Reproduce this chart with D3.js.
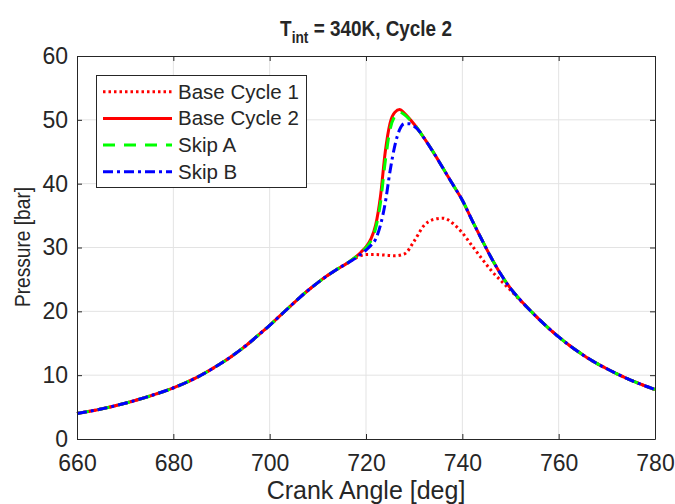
<!DOCTYPE html>
<html>
<head>
<meta charset="utf-8">
<script src="https://cdn.jsdelivr.net/npm/d3@7"></script>
<style>
  body { margin: 0; background: #fff; }
  svg text { font-family: "Liberation Sans", Arial, sans-serif; fill: #262626; }
</style>
</head>
<body>
<div id="chart"></div>
<script>
// 数据
const xTicks = [660, 680, 700, 720, 740, 760, 780];
const yTicks = [0, 10, 20, 30, 40, 50, 60];

// 共同压缩段
const commonAngle = [660, 665, 670, 675, 680, 685, 690, 692, 694, 696, 698, 700, 702, 704, 706, 708, 710, 712, 714, 716];
const commonP = [4.0, 4.7, 5.6, 6.7, 8.0, 9.7, 11.9, 12.9, 14.0, 15.2, 16.5, 17.8, 19.2, 20.6, 22.0, 23.3, 24.5, 25.6, 26.6, 27.5];

// 共同膨胀段
const tailAngle = [756, 758, 760, 762, 764, 766, 768, 770, 772, 774, 776, 778, 780];
const tailP = [18.7, 17.3, 16.0, 14.8, 13.7, 12.7, 11.8, 11.0, 10.25, 9.55, 8.9, 8.3, 7.75];

const base1Angle = [718, 720, 722, 724, 726, 728, 730, 732, 734, 736, 738, 740, 742, 744, 746, 748, 750, 752, 754];
const base1P = [28.4, 28.9, 28.9, 28.8, 28.7, 29.0, 31.0, 33.4, 34.4, 34.6, 33.8, 32.3, 30.3, 28.3, 26.4, 24.8, 23.3, 21.7, 20.2];

const base2Angle = [718, 719, 720, 721, 722, 723, 724, 725, 726, 727, 728, 729, 730, 732, 734, 736, 738, 740, 742, 744, 746, 748, 750, 752, 754];
const base2P = [28.6, 29.3, 30.1, 31.3, 33.5, 38.0, 45.0, 49.5, 51.2, 51.6, 51.0, 50.2, 49.3, 47.2, 44.9, 42.4, 39.9, 37.4, 34.3, 31.3, 28.4, 25.8, 23.6, 21.8, 20.2];

const skipAAngle = [718, 719, 720, 721, 722, 723, 724, 725, 726, 727, 728, 729, 730, 732, 734, 736, 738, 740, 742, 744, 746, 748, 750, 752, 754];
const skipAP = [28.6, 29.2, 30.0, 31.0, 33.0, 37.0, 43.5, 48.5, 50.6, 51.2, 50.8, 50.1, 49.3, 47.2, 44.9, 42.4, 39.9, 37.4, 34.3, 31.3, 28.4, 25.8, 23.6, 21.8, 20.2];

const skipBAngle = [718, 719, 720, 721, 722, 723, 724, 725, 726, 727, 728, 729, 730, 731, 732, 734, 736, 738, 740, 742, 744, 746, 748, 750, 752, 754];
const skipBP = [28.4, 29.0, 29.6, 30.3, 31.3, 33.5, 37.0, 42.0, 46.0, 48.5, 49.4, 49.4, 49.0, 48.3, 47.2, 44.9, 42.4, 39.9, 37.4, 34.3, 31.3, 28.4, 25.8, 23.6, 21.8, 20.2];

const seriesNames = ['Base Cycle 1', 'Base Cycle 2', 'Skip A', 'Skip B'];
const seriesColors = ['#ff0000', '#ff0000', '#00ff00', '#0000ff'];
const seriesDash = ['2.5,3', null, '12,9', '10,4,3,4'];

//布局
const W = 675, H = 504;
const axisColor = '#262626';

function join(angles, ps) {
    return angles.map((a, i) => ({ x: a, y: ps[i] }));
}
function full(angles, ps) {
    return join(commonAngle, commonP).concat(join(angles, ps), join(tailAngle, tailP));
}

const series = [
    full(base1Angle, base1P),
    full(base2Angle, base2P),
    full(skipAAngle, skipAP),
    full(skipBAngle, skipBP)
];

const svg = d3.select('#chart').append('svg').attr('width', W).attr('height', H);

const x = d3.scaleLinear().domain([660, 780]).range([77, 655]);
const y = d3.scaleLinear().domain([0, 60]).range([439, 56]);

// 网格
svg.append('g').selectAll('line').data(xTicks.slice(1, -1)).join('line')
    .attr('x1', d => x(d)).attr('x2', d => x(d)).attr('y1', y(0)).attr('y2', y(60))
    .attr('stroke', '#e3e3e3').attr('stroke-width', 1);
svg.append('g').selectAll('line').data(yTicks.slice(1, -1)).join('line')
    .attr('y1', d => y(d)).attr('y2', d => y(d)).attr('x1', x(660)).attr('x2', x(780))
    .attr('stroke', '#e3e3e3').attr('stroke-width', 1);

// 曲线
const line = d3.line().x(d => x(d.x)).y(d => y(d.y)).curve(d3.curveMonotoneX);
const plot = svg.append('g');
series.forEach((s, i) => {
    plot.append('path').datum(s)
        .attr('d', line)
        .attr('fill', 'none')
        .attr('stroke', seriesColors[i])
        .attr('stroke-width', 3)
        .attr('stroke-dasharray', seriesDash[i]);
});

// 坐标轴
const xAxis = svg.append('g').attr('transform', `translate(0,${y(0)})`)
    .call(d3.axisBottom(x).tickValues(xTicks).tickSize(-5).tickPadding(16).tickSizeOuter(0));
const yAxis = svg.append('g').attr('transform', `translate(${x(660)},0)`)
    .call(d3.axisLeft(y).tickValues(yTicks).tickSize(-5).tickPadding(9).tickSizeOuter(0));
const xTop = svg.append('g').attr('transform', `translate(0,${y(60)})`)
    .call(d3.axisTop(x).tickValues(xTicks).tickSize(-5).tickFormat('').tickSizeOuter(0));
const yRight = svg.append('g').attr('transform', `translate(${x(780)},0)`)
    .call(d3.axisRight(y).tickValues(yTicks).tickSize(-5).tickFormat('').tickSizeOuter(0));
[xAxis, yAxis, xTop, yRight].forEach(g => {
    g.select('.domain').attr('stroke', axisColor).attr('stroke-width', 1);
    g.selectAll('.tick line').attr('stroke', axisColor);
    g.selectAll('.tick text').attr('font-size', 23).attr('fill', axisColor)
        .style('font-family', '"Liberation Sans", Arial, sans-serif');
});

// 标题
const title = svg.append('text').attr('transform', 'translate(366,36) scale(0.86,1)')
    .attr('text-anchor', 'middle').attr('font-size', 22).attr('font-weight', 'bold');
title.append('tspan').text('T');
title.append('tspan').attr('dy', 7).attr('font-size', 16).text('int');
title.append('tspan').attr('dy', -7).text(' = 340K, Cycle 2');

// 轴标签
svg.append('text').attr('x', 366).attr('y', 499).attr('text-anchor', 'middle')
    .attr('font-size', 25).text('Crank Angle [deg]');
svg.append('text').attr('transform', 'translate(30,247) rotate(-90) scale(0.87,1)')
    .attr('text-anchor', 'middle').attr('font-size', 22).text('Pressure [bar]');

// 图例
const legend = svg.append('g');
legend.append('rect').attr('x', 96.5).attr('y', 75.5).attr('width', 210).attr('height', 112)
    .attr('fill', '#fff').attr('stroke', axisColor).attr('stroke-width', 1);
seriesNames.forEach((name, i) => {
    const cy = 91.7 + i * 26.7;
    legend.append('line').attr('x1', 103).attr('x2', 172).attr('y1', cy).attr('y2', cy)
        .attr('stroke', seriesColors[i]).attr('stroke-width', 3)
        .attr('stroke-dasharray', seriesDash[i]);
    legend.append('text').attr('x', 178).attr('y', cy + 7).attr('font-size', 20.5).text(name);
});
</script>
</body>
</html>
